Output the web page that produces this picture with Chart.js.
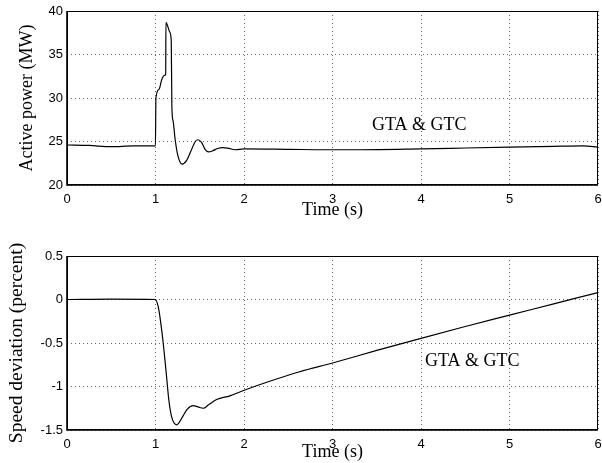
<!DOCTYPE html>
<html>
<head>
<meta charset="utf-8">
<script src="https://cdn.jsdelivr.net/npm/chart.js@4"></script>
<style>
  html, body { margin: 0; padding: 0; background: #fff; }
  #wrap { position: relative; width: 602px; height: 463px; background: #fff; }
  canvas { position: absolute; left: 0; }
</style>
</head>
<body>
<div id="wrap">
  <canvas id="c1" width="602" height="232" style="top:0px;width:602px;height:232px"></canvas>
  <canvas id="c2" width="602" height="231" style="top:232px;width:602px;height:231px"></canvas>
</div>
<script>
// ---- Data ----
const powerTime = [0, 0.25, 0.5, 0.75, 0.999, 1.005, 1.04, 1.07, 1.1, 1.115, 1.118, 1.14, 1.16, 1.178, 1.185, 1.2, 1.22, 1.25, 1.3, 1.35, 1.4, 1.45, 1.48, 1.52, 1.56, 1.6, 1.65, 1.7, 1.76, 1.83, 1.9, 2.0, 2.5, 2.93, 3.3, 4.0, 4.5, 5.0, 5.5, 5.83, 6.0];
const powerMW   = [24.6, 24.55, 24.4, 24.5, 24.5, 30.0, 31.0, 32.1, 32.6, 32.7, 38.7, 38.2, 37.6, 36.6, 29.0, 27.3, 25.4, 23.5, 22.4, 22.8, 23.9, 25.0, 25.2, 24.9, 24.1, 23.8, 23.95, 24.2, 24.3, 24.2, 24.05, 24.15, 24.1, 24.05, 24.05, 24.15, 24.25, 24.35, 24.45, 24.5, 24.35];

const speedTime = [0, 0.5, 1.0, 1.03, 1.05, 1.087, 1.125, 1.15, 1.18, 1.21, 1.24, 1.27, 1.31, 1.36, 1.425, 1.48, 1.54, 1.6, 1.69, 1.84, 2.01, 2.29, 2.63, 3.0, 3.5, 4.0, 4.5, 5.0, 5.5, 6.0];
const speedPct  = [0, 0.005, 0, -0.08, -0.2, -0.5, -0.885, -1.15, -1.34, -1.42, -1.44, -1.41, -1.34, -1.26, -1.22, -1.235, -1.25, -1.21, -1.15, -1.107, -1.04, -0.94, -0.83, -0.73, -0.585, -0.446, -0.31, -0.18, -0.05, 0.08];

const timeTicks = ['0', '1', '2', '3', '4', '5', '6'];
const powerTicks = ['20', '25', '30', '35', '40'];
const speedTicks = ['-1.5', '-1', '-0.5', '0', '0.5'];

const xTitle = 'Time (s)';
const powerTitle = 'Active power (MW)';
const speedTitle = 'Speed deviation (percent)';
const noteText = 'GTA & GTC';
const powerNote = [3.98, 26.9];
const speedNote = [4.58, -0.71];

// ---- Helpers ----
const tickFont = { family: '"Liberation Sans", Arial, sans-serif', size: 13 };
const serif = '"Liberation Serif", "Times New Roman", serif';

function pts(xs, ys) { return xs.map((x, i) => ({ x: x, y: ys[i] })); }

const framePlugin = {
  id: 'frame',
  afterDraw(chart) {
    const a = chart.chartArea, ctx = chart.ctx;
    ctx.save();
    ctx.strokeStyle = '#000';
    ctx.lineWidth = 1;
    ctx.strokeRect(a.left + 0.5, a.top + 0.5, a.right - a.left - 1, a.bottom - a.top - 1);
    ctx.lineWidth = 1.6;
    ctx.beginPath();
    ctx.moveTo(a.left, a.top); ctx.lineTo(a.left, a.bottom); ctx.lineTo(a.right, a.bottom);
    ctx.stroke();
    const note = chart.options.plugins.frame.note;
    if (note) {
      ctx.fillStyle = '#000';
      ctx.font = '18px ' + serif;
      ctx.textAlign = 'center';
      ctx.textBaseline = 'middle';
      ctx.fillText(noteText, chart.scales.x.getPixelForValue(note[0]), chart.scales.y.getPixelForValue(note[1]));
    }
    ctx.restore();
  }
};

function makeChart(id, data, yMin, yMax, yStep, yLabels, yTitle, yTitleSize, yTitlePad, areaTop, areaBottom, canvasH, xTitlePadBottom, note) {
  const yVals = [];
  for (let v = yMin; v <= yMax + 1e-9; v += yStep) yVals.push(Math.round(v * 1000) / 1000);
  return new Chart(document.getElementById(id), {
    type: 'line',
    data: {
      datasets: [{
        data: data,
        borderColor: '#000',
        borderWidth: 1.2,
        pointRadius: 0,
        fill: false,
        cubicInterpolationMode: 'monotone'
      }]
    },
    options: {
      responsive: false,
      animation: false,
      devicePixelRatio: 1,
      layout: { padding: { left: 0, right: 4, top: areaTop, bottom: 0 } },
      plugins: { legend: { display: false }, tooltip: { enabled: false }, frame: { note: note } },
      scales: {
        x: {
          type: 'linear', min: 0, max: 6,
          afterFit(s) { s.height = canvasH - areaBottom; s.paddingRight = 0; s.paddingLeft = 0; },
          ticks: { stepSize: 1, color: '#000', font: tickFont, padding: 7, maxRotation: 0,
                   callback: (v) => timeTicks[Math.round(v)] },
          grid: { color: '#666', lineWidth: 1, drawTicks: false },
          border: { display: false, dash: [1, 3] },
          title: { display: true, text: xTitle, color: '#000', font: { family: serif, size: 18, lineHeight: 1.2 },
                   padding: { top: 0, bottom: xTitlePadBottom } }
        },
        y: {
          type: 'linear', min: yMin, max: yMax,
          afterFit(s) { s.width = 67; s.paddingTop = 0; s.paddingBottom = 0; },
          ticks: { stepSize: yStep, color: '#000', font: tickFont, padding: 4,
                   callback: (v) => { const i = yVals.findIndex(q => Math.abs(q - v) < 1e-6); return i >= 0 ? yLabels[i] : ''; } },
          grid: { color: '#666', lineWidth: 1, drawTicks: false },
          border: { display: false, dash: [1, 3] },
          title: { display: true, text: yTitle, color: '#000', font: { family: serif, size: yTitleSize, lineHeight: 1.2 },
                   padding: { top: yTitlePad, bottom: 0 } }
        }
      }
    },
    plugins: [framePlugin]
  });
}

makeChart('c1', pts(powerTime, powerMW), 20, 40, 5, powerTicks, powerTitle, 18, 16, 11, 185, 232, 11, powerNote);
makeChart('c2', pts(speedTime, speedPct), -1.5, 0.5, 0.5, speedTicks, speedTitle, 19.5, 5, 24, 198, 231, 0, speedNote);
</script>
</body>
</html>
